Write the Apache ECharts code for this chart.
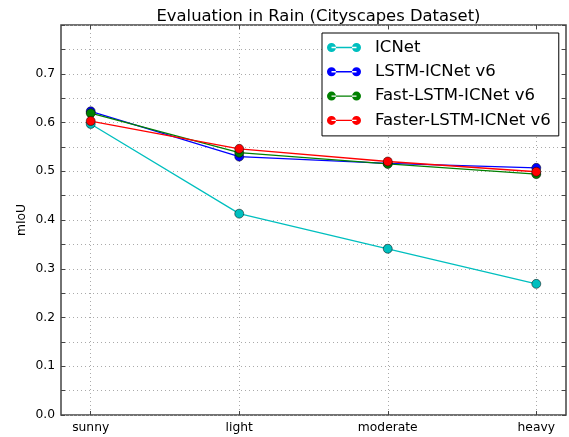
<!DOCTYPE html>
<html>
<head>
<meta charset="utf-8">
<script src="https://cdn.jsdelivr.net/npm/echarts@6/dist/echarts.min.js"></script>
<style>html,body{margin:0;padding:0;background:#fff;}#c{width:569px;height:437px;}</style>
</head>
<body>
<div id="c"></div>
<script>
const categories = ['sunny', 'light', 'moderate', 'heavy'];
const seriesNames = ['ICNet', 'LSTM-ICNet v6', 'Fast-LSTM-ICNet v6', 'Faster-LSTM-ICNet v6'];
const icnet = [0.597, 0.413, 0.341, 0.269];
const lstmIcnet = [0.623, 0.530, 0.516, 0.507];
const fastLstmIcnet = [0.619, 0.538, 0.515, 0.494];
const fasterLstmIcnet = [0.603, 0.546, 0.520, 0.499];
const colors = ['#00BFBF', '#0000FF', '#008000', '#FF0000'];
const yTickLabels = ['0.0', '0.1', '0.2', '0.3', '0.4', '0.5', '0.6', '0.7'];

const allValues = [icnet, lstmIcnet, fastLstmIcnet, fasterLstmIcnet];
const catIdx = categories.map((c, i) => i);
const FONT = 'DejaVu Sans';
const iconPath = 'path://M0,4.5a4.5,4.5 0 1,0 9,0a4.5,4.5 0 1,0 -9,0Z M25,4.5a4.5,4.5 0 1,0 9,0a4.5,4.5 0 1,0 -9,0Z M4.5,3.8L29.5,3.8L29.5,5.2L4.5,5.2Z';

const chart = echarts.init(document.getElementById('c'), null, {renderer: 'canvas'});
const series = allValues.map((vals, s) => ({
  name: seriesNames[s],
  type: 'line',
  data: vals.map((v, i) => [catIdx[i], v]),
  symbol: 'circle',
  symbolSize: 9,
  lineStyle: {width: 1.3, color: colors[s]},
  itemStyle: {color: colors[s], borderColor: '#000', borderWidth: 0.5},
  emphasis: {disabled: true},
  animation: false,
  z: 2 + s
}));

const tickStyle = {color: '#444', width: 1};
chart.setOption({
  animation: false,
  title: {
    text: 'Evaluation in Rain (Cityscapes Dataset)',
    left: 313.5, top: 4, textAlign: 'center',
    textStyle: {fontFamily: FONT, fontSize: 16.4, fontWeight: 'normal', color: '#000'}
  },
  legend: {
    orient: 'vertical',
    left: 322, top: 33,
    padding: [6, 8, 7, 5],
    itemGap: 7.3,
    itemWidth: 34, itemHeight: 9,
    icon: iconPath,
    borderColor: '#000', borderWidth: 1,
    backgroundColor: '#fff',
    textStyle: {fontFamily: FONT, fontSize: 16.5, color: '#000', lineHeight: 16, padding: [0, 0, 0, 9]},
    itemStyle: {borderWidth: 0},
    data: seriesNames,
    selectedMode: false
  },
  grid: {left: 61, right: 3, top: 25, bottom: 22, show: true, borderColor: '#444', borderWidth: 1.5, backgroundColor: 'transparent'},
  xAxis: [{
    type: 'value', min: -0.2, max: 3.2,
    axisLine: {show: false, onZero: false},
    axisTick: {show: true, inside: true, length: 4, customValues: catIdx, lineStyle: tickStyle},
    axisLabel: {customValues: catIdx, formatter: v => categories[Math.round(v)], fontFamily: FONT, fontSize: 12.3, color: '#000', margin: 7},
    splitLine: {show: true, lineStyle: {type: [1, 3], color: '#aaa', width: 1}}
  }, {
    type: 'value', min: -0.2, max: 3.2, position: 'top',
    axisLine: {show: false, onZero: false},
    axisTick: {show: true, inside: true, length: 4, customValues: catIdx, lineStyle: tickStyle},
    axisLabel: {show: false},
    splitLine: {show: false}
  }],
  yAxis: [{
    type: 'value', min: 0, max: 0.8, interval: 0.05, position: 'left',
    name: 'mIoU', nameLocation: 'middle', nameGap: 33, nameRotate: 90, nameMoveOverlap: false,
    nameTextStyle: {fontFamily: FONT, fontSize: 12.3, color: '#000'},
    axisLine: {show: false, onZero: false},
    axisTick: {show: true, inside: true, length: 4, lineStyle: tickStyle},
    axisLabel: {
      fontFamily: FONT, fontSize: 12.3, color: '#000', margin: 6,
      formatter: v => { const k = Math.round(v * 100); return (k % 10 === 0 && k / 10 < yTickLabels.length) ? yTickLabels[k / 10] : ''; }
    },
    splitLine: {show: true, lineStyle: {type: [1, 3], color: '#aaa', width: 1}}
  }, {
    type: 'value', min: 0, max: 0.8, interval: 0.05, position: 'right',
    axisLine: {show: false, onZero: false},
    axisTick: {show: true, inside: true, length: 4, lineStyle: tickStyle},
    axisLabel: {show: false},
    splitLine: {show: false}
  }],
  series: series
});
</script>
</body>
</html>
